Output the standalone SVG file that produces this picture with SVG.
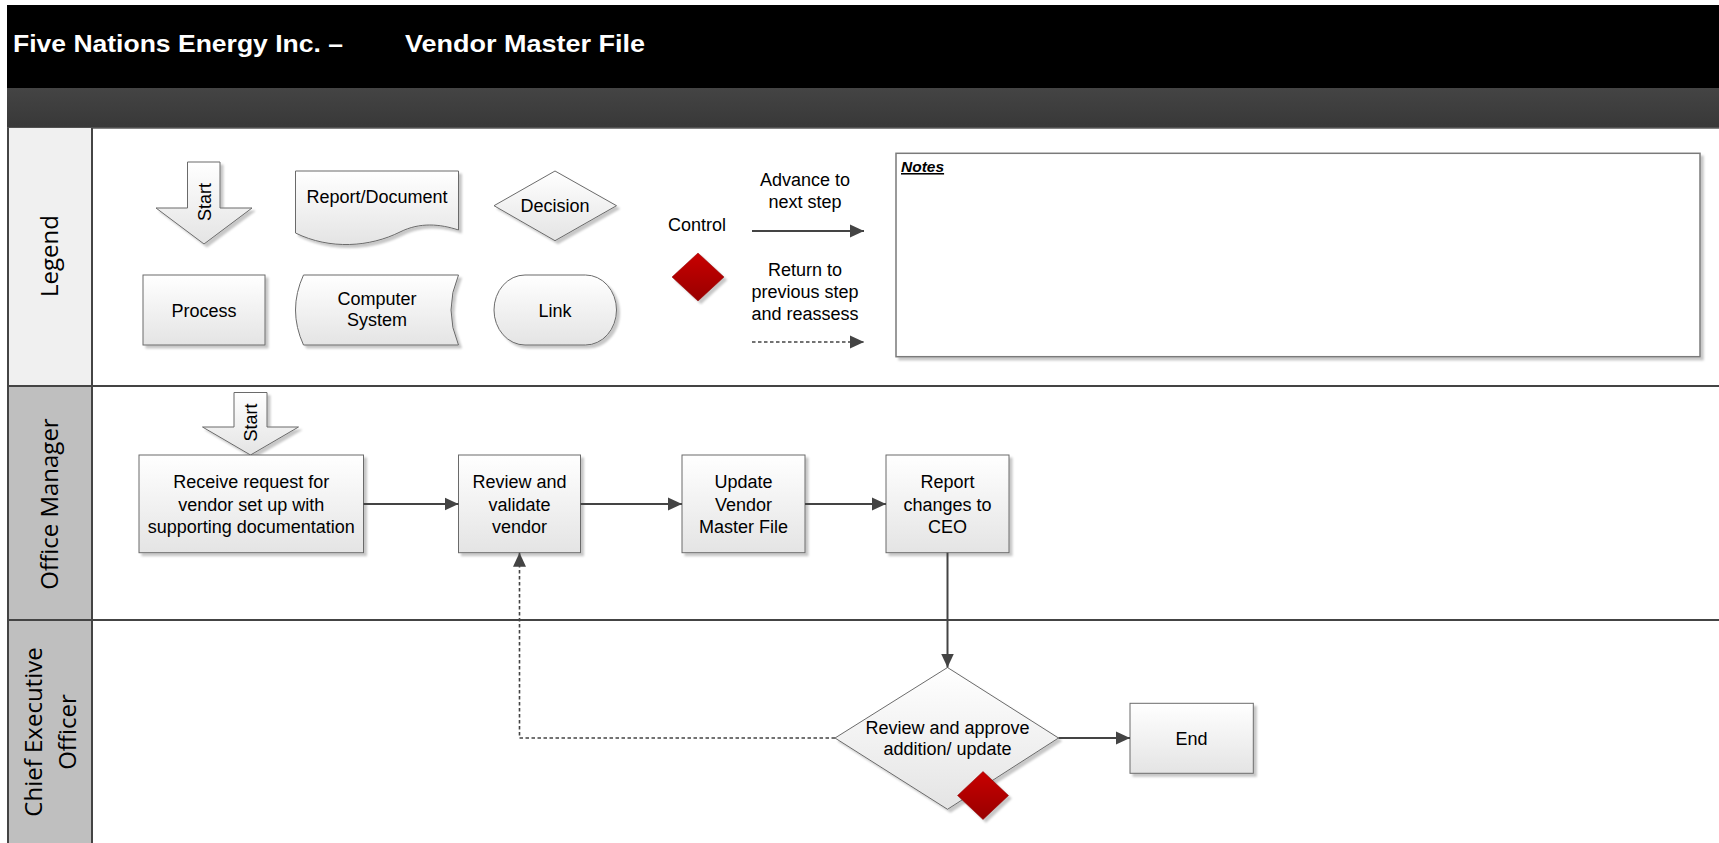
<svg xmlns="http://www.w3.org/2000/svg" width="1719" height="843" viewBox="0 0 1719 843">
<style>
  .t { font-family: "Liberation Sans", Arial, sans-serif; font-size: 18px; fill: #000; text-anchor: middle; }
  .lane { font-family: "Open Sans", "DejaVu Sans", sans-serif; font-size: 24px; fill: #000; text-anchor: middle; }
  .title { font-family: "Liberation Sans", Arial, sans-serif; font-size: 24px; font-weight: bold; fill: #fff; }
  .shape { fill: url(#gBox); stroke: #6b6b6b; stroke-width: 1; filter: url(#sh); }
  .ctl { fill: url(#gRed); stroke: #8a0000; stroke-width: 0.5; filter: url(#sh); }
  .sep { stroke: #444; stroke-width: 2; fill: none; }
  .flow { stroke: #444; stroke-width: 2; fill: none; marker-end: url(#ah); }
  .dot { stroke: #444; stroke-width: 1.6; fill: none; stroke-dasharray: 3.5 2.5; marker-end: url(#ah); }
</style>
<defs>
  <linearGradient id="gBox" x1="0" y1="0" x2="0" y2="1">
    <stop offset="0" stop-color="#ffffff"/>
    <stop offset="1" stop-color="#e4e4e4"/>
  </linearGradient>
  <linearGradient id="gRed" x1="0" y1="0" x2="0" y2="1">
    <stop offset="0" stop-color="#c80000"/>
    <stop offset="1" stop-color="#980000"/>
  </linearGradient>
  <linearGradient id="gBar" x1="0" y1="0" x2="0" y2="1">
    <stop offset="0" stop-color="#444444"/>
    <stop offset="1" stop-color="#383838"/>
  </linearGradient>
  <filter id="sh" x="-10%" y="-10%" width="130%" height="130%">
    <feDropShadow dx="3" dy="3" stdDeviation="1.2" flood-color="#000" flood-opacity="0.22"/>
  </filter>
  <marker id="ah" markerUnits="userSpaceOnUse" markerWidth="14" markerHeight="14" refX="14" refY="7" orient="auto">
    <path d="M0,0.5 L14,7 L0,13.5 Z" fill="#444"/>
  </marker>
</defs>

<rect x="0" y="0" width="1719" height="843" fill="#fff"/>

<!-- header -->
<g id="header">
  <rect x="7" y="5" width="1712" height="83" fill="#000"/>
  <rect x="7" y="88" width="1712" height="40" fill="url(#gBar)"/>
  <line x1="7" y1="128" x2="1719" y2="128" stroke="#5a5a5a" stroke-width="1.5"/>
  <text class="title" x="13" y="52" textLength="330" lengthAdjust="spacingAndGlyphs">Five Nations Energy Inc. –</text>
  <text class="title" x="405" y="52" textLength="240" lengthAdjust="spacingAndGlyphs">Vendor Master File</text>
</g>

<!-- lanes -->
<g id="lanes">
  <rect x="8" y="128" width="84" height="258" fill="#f0f0f0"/>
  <rect x="8" y="386" width="84" height="234" fill="#bfbfbf"/>
  <rect x="8" y="620" width="84" height="223" fill="#bfbfbf"/>
  <line class="sep" x1="8" y1="128" x2="8" y2="843"/>
  <line class="sep" x1="92" y1="128" x2="92" y2="843"/>
  <line class="sep" x1="7" y1="386" x2="1719" y2="386"/>
  <line class="sep" x1="7" y1="620" x2="1719" y2="620"/>
  <text class="lane" transform="translate(57.5,256) rotate(-90)">Legend</text>
  <text class="lane" transform="translate(58,504) rotate(-90)">Office Manager</text>
  <text class="lane" transform="translate(42,732) rotate(-90)">Chief Executive</text>
  <text class="lane" transform="translate(76,732) rotate(-90)">Officer</text>
</g>

<!-- legend -->
<g id="legend-start">
  <path class="shape" d="M187.5,162 H220 V208 H252 L204,244 L156,208 H187.5 Z"/>
  <text class="t" transform="rotate(-90,204,202)" x="204" y="208.5">Start</text>
</g>
<g id="legend-report">
  <path class="shape" d="M295.5,171 H458.5 V230 C440,224 420,222 400,232 C370,247 330,250 295.5,233 Z"/>
  <text class="t" x="377" y="202.5">Report/Document</text>
</g>
<g id="legend-decision">
  <polygon class="shape" points="494,205.7 555,171 616.5,205.7 555,240.7"/>
  <text class="t" x="555" y="212">Decision</text>
</g>
<g id="legend-process">
  <rect class="shape" x="143" y="275" width="122" height="70"/>
  <text class="t" x="204" y="316.5">Process</text>
</g>
<g id="legend-computer">
  <path class="shape" d="M303.5,275 H458.5 Q443.5,310 458.5,345 H303.5 Q287.5,310 303.5,275 Z"/>
  <text class="t" x="377" y="304.5">Computer</text>
  <text class="t" x="377" y="325.5">System</text>
</g>
<g id="legend-link">
  <rect class="shape" x="494" y="275" width="122.5" height="70" rx="31" ry="35"/>
  <text class="t" x="555" y="316.5">Link</text>
</g>
<g id="legend-control">
  <text class="t" x="697" y="230.5">Control</text>
  <polygon class="ctl" points="672,277 698,253 724,277 698,301"/>
</g>
<g id="legend-arrows">
  <text class="t" x="805" y="185.5">Advance to</text>
  <text class="t" x="805" y="208">next step</text>
  <line class="flow" x1="752" y1="231" x2="864" y2="231"/>
  <text class="t" x="805" y="275.5">Return to</text>
  <text class="t" x="805" y="298">previous step</text>
  <text class="t" x="805" y="319.5">and reassess</text>
  <line class="dot" x1="752" y1="342" x2="864" y2="342"/>
</g>
<g id="notes">
  <rect x="896" y="153.3" width="804" height="203.4" fill="#fff" stroke="#7a7a7a" stroke-width="1.5" filter="url(#sh)"/>
  <text x="901" y="172" font-family="Liberation Sans, Arial, sans-serif" font-size="15.5" font-weight="bold" font-style="italic" text-decoration="underline" fill="#000">Notes</text>
</g>

<!-- flow nodes -->
<g id="start">
  <path class="shape" d="M234,392.5 H267 V427 H298.5 L250.5,455 L202.5,427 H234 Z"/>
  <text class="t" transform="rotate(-90,250.5,422.5)" x="250.5" y="429">Start</text>
</g>
<g id="receive">
  <rect class="shape" x="139" y="455" width="224.5" height="97.7"/>
  <text class="t" x="251.2" y="488">Receive request for</text>
  <text class="t" x="251.2" y="510.5">vendor set up with</text>
  <text class="t" x="251.2" y="532.5">supporting documentation</text>
</g>
<g id="review">
  <rect class="shape" x="458.5" y="455" width="122" height="97.7"/>
  <text class="t" x="519.5" y="488">Review and</text>
  <text class="t" x="519.5" y="510.5">validate</text>
  <text class="t" x="519.5" y="532.5">vendor</text>
</g>
<g id="update">
  <rect class="shape" x="682" y="455" width="123" height="97.7"/>
  <text class="t" x="743.5" y="488">Update</text>
  <text class="t" x="743.5" y="510.5">Vendor</text>
  <text class="t" x="743.5" y="532.5">Master File</text>
</g>
<g id="report">
  <rect class="shape" x="886" y="455" width="123" height="97.7"/>
  <text class="t" x="947.5" y="488">Report</text>
  <text class="t" x="947.5" y="510.5">changes to</text>
  <text class="t" x="947.5" y="532.5">CEO</text>
</g>
<g id="approve">
  <polygon class="shape" points="835,738 947.5,667.5 1058.5,738 947.5,809.3"/>
  <text class="t" x="947.5" y="734">Review and approve</text>
  <text class="t" x="947.5" y="754.5">addition/ update</text>
  <polygon class="ctl" points="957.5,795.5 983,771.5 1008.5,795.5 983,819.5"/>
</g>
<g id="end">
  <rect class="shape" x="1130" y="703.3" width="123.3" height="70"/>
  <text class="t" x="1191.6" y="744.5">End</text>
</g>

<!-- connectors -->
<g id="connectors">
  <line class="flow" x1="363.5" y1="504" x2="458.5" y2="504"/>
  <line class="flow" x1="580.5" y1="504" x2="682" y2="504"/>
  <line class="flow" x1="805" y1="504" x2="886" y2="504"/>
  <line class="flow" x1="947.5" y1="552.7" x2="947.5" y2="667.5"/>
  <line class="flow" x1="1058.5" y1="738" x2="1130" y2="738"/>
  <polyline class="dot" points="835,738 519.5,738 519.5,552.7"/>
</g>
</svg>
